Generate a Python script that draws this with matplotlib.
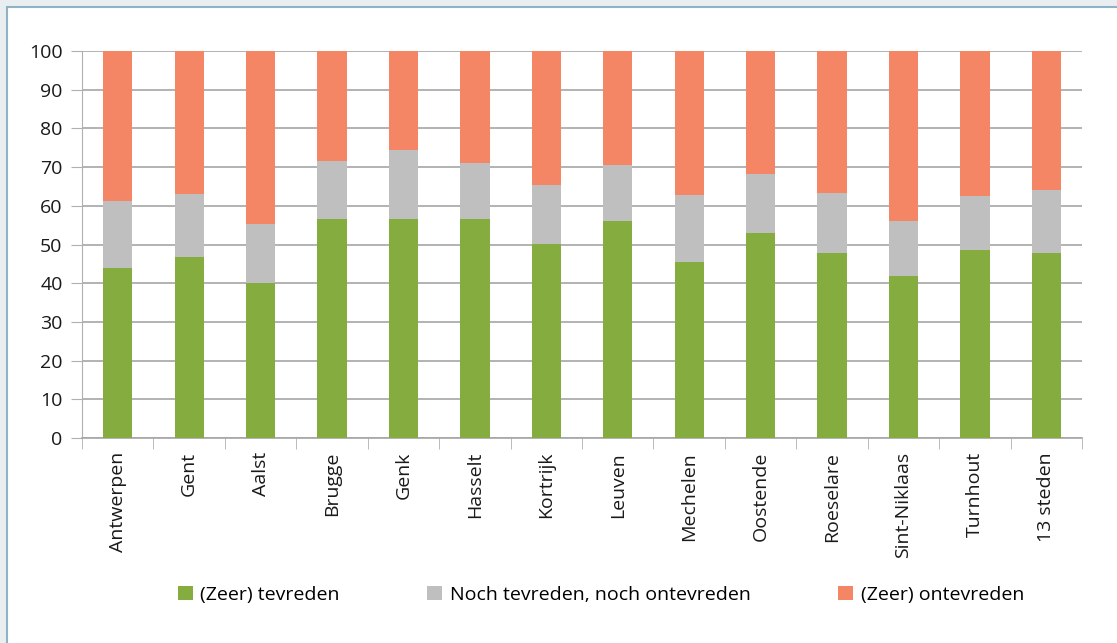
import numpy as np
import matplotlib
matplotlib.use('Agg')
from matplotlib import pyplot as plt
from matplotlib.patches import Rectangle

plt.rcParams['font.family'] = ['Open Sans', 'DejaVu Sans']

GREEN = '#84ac3f'
GREY = '#bfbfbf'
ORANGE = '#f48565'

cities = ['Antwerpen', 'Gent', 'Aalst', 'Brugge', 'Genk', 'Hasselt', 'Kortrijk',
          'Leuven', 'Mechelen', 'Oostende', 'Roeselare', 'Sint-Niklaas',
          'Turnhout', '13 steden']
tevreden = [43.9, 46.7, 40.0, 56.7, 56.7, 56.7, 50.1, 56.1, 45.5, 53.0, 47.9, 41.9, 48.6, 47.8]
neutraal = [17.3, 16.3, 15.3, 14.9, 17.7, 14.4, 15.4, 14.4, 17.3, 15.2, 15.4, 14.2, 13.9, 16.3]
ontevreden = [100 - a - b for a, b in zip(tevreden, neutraal)]

W, H = 1117, 643
fig = plt.figure(figsize=(W / 100, H / 100), dpi=100)
fig.patch.set_facecolor('#e9eef1')
fig.patches.append(Rectangle((7 / W, -0.1), 1.2, (H - 7) / H + 0.1, transform=fig.transFigure,
                             facecolor='white', edgecolor='#8fb3c4', linewidth=1.5, zorder=-5))

ax = fig.add_axes([82 / W, 1 - 438 / H, 1000 / W, 387 / H])
ax.set_zorder(1)
ax.patch.set_alpha(0)
x = np.arange(len(cities))
bw = 0.41
ax.bar(x, tevreden, bw, color=GREEN, label='(Zeer) tevreden', zorder=3)
ax.bar(x, neutraal, bw, bottom=tevreden, color=GREY, label='Noch tevreden, noch ontevreden', zorder=3)
ax.bar(x, ontevreden, bw, bottom=np.add(tevreden, neutraal), color=ORANGE,
       label='(Zeer) ontevreden', zorder=3)

ax.set_xlim(-0.5, len(cities) - 0.5)
ax.set_ylim(0, 100)
ax.set_yticks(np.arange(0, 101, 10))
ax.yaxis.grid(True, color='#a6a6a6', linewidth=1.2, zorder=0)
ax.set_axisbelow(True)
for s in ['top', 'right']:
    ax.spines[s].set_visible(False)
ax.spines['left'].set_color('#b0b0b0')
ax.spines['bottom'].set_color('#a6a6a6')
ax.spines['bottom'].set_linewidth(1.2)

ax.set_xticks(x)
ax.set_xticklabels(cities, rotation=90, fontsize=14, color='#1a1a1a')
ax.tick_params(axis='x', length=0, pad=10)
ax.set_xticks(np.arange(-0.5, len(cities), 1), minor=True)
ax.tick_params(axis='x', which='minor', length=8, color='#b0b0b0')
ax.tick_params(axis='y', length=8, color='#b0b0b0', labelsize=14, labelcolor='#1a1a1a', pad=6)

ax.legend(loc='center', bbox_to_anchor=(0.519, -0.405), ncol=3, frameon=False, fontsize=14,
          handlelength=0.75, handleheight=0.75, handletextpad=0.4, columnspacing=4.5)

fig.savefig('out.png', dpi=100, facecolor=fig.get_facecolor())
plt.close()
